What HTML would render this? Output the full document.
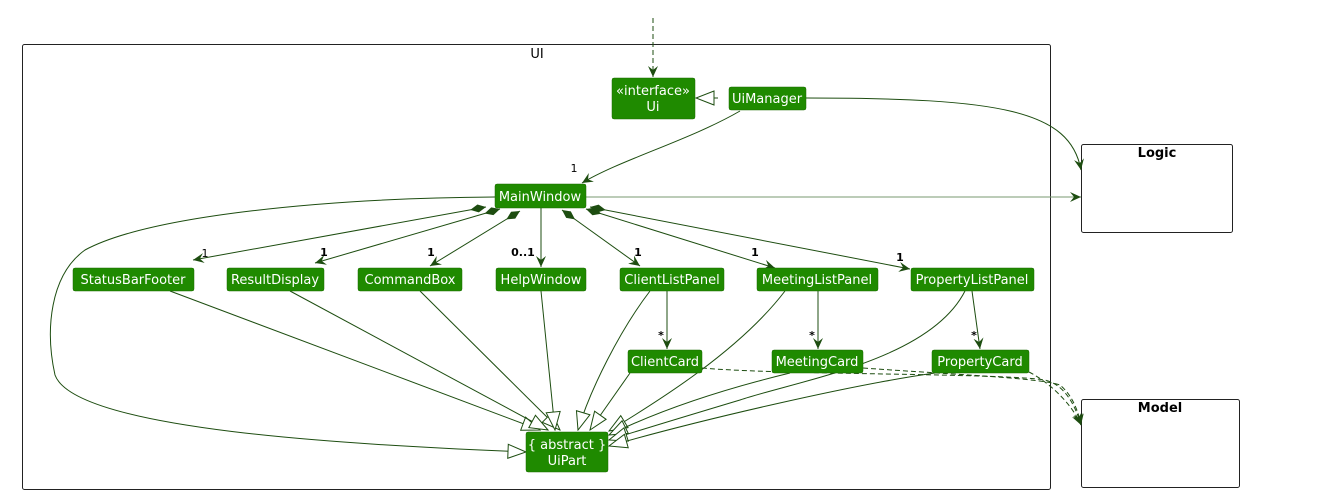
<!DOCTYPE html>
<html><head><meta charset="utf-8"><style>
html,body{margin:0;padding:0;background:#fff;}
svg{display:block;}
text{font-family:"DejaVu Sans","Liberation Sans",sans-serif;}
.n{fill:#1f8a00;stroke:#1a6a00;stroke-width:0.5;}
.t{fill:#fff;font-size:13px;text-anchor:middle;}
.l{fill:none;stroke:#1d4d10;stroke-width:1;}
.d{fill:none;stroke:#1d4d10;stroke-width:1;stroke-dasharray:5,3;}
.m{font-size:11px;fill:#000;text-anchor:middle;}
</style></head><body>
<svg width="1317" height="501" viewBox="0 0 1317 501">
<defs>
<marker id="v" viewBox="0 0 12 10" refX="11" refY="5" markerWidth="12" markerHeight="10" markerUnits="userSpaceOnUse" orient="auto"><path d="M0,0 L11,5 L0,10 L4,5 Z" fill="#1d4d10"/></marker>
<marker id="tri" viewBox="0 0 20 16" refX="19" refY="8" markerWidth="20" markerHeight="16" markerUnits="userSpaceOnUse" orient="auto"><path d="M1,1 L19,8 L1,15 Z" fill="#fff" stroke="#1d4d10"/></marker>
<marker id="dia" viewBox="0 0 18 10" refX="1" refY="5" markerWidth="18" markerHeight="10" markerUnits="userSpaceOnUse" orient="auto"><path d="M1,5 L9,1 L17,5 L9,9 Z" fill="#1d4d10"/></marker>
</defs>
<rect x="22.5" y="44.5" width="1028" height="445" rx="2" fill="none" stroke="#222"/>
<text x="537" y="58" font-size="13" text-anchor="middle">UI</text>
<rect x="1081.5" y="144.5" width="151" height="88" rx="2" fill="none" stroke="#222"/>
<text x="1157" y="157" font-size="13" font-weight="bold" text-anchor="middle">Logic</text>
<rect x="1081.5" y="399.5" width="158" height="88" rx="2" fill="none" stroke="#222"/>
<text x="1160" y="412" font-size="13" font-weight="bold" text-anchor="middle">Model</text>

<path class="d" d="M653,18 L653,77" marker-end="url(#v)"/>
<path class="d" d="M718,98 L696,98" marker-end="url(#tri)"/>
<path class="l" d="M740,111 C690,140 620,160 582,183" marker-end="url(#v)"/>
<text class="m" x="574" y="172">1</text>
<path class="l" d="M806,98 C1000,98 1070,110 1081,170" marker-end="url(#v)"/>
<path d="M586,197 L1081,197" stroke="#7a9a70" fill="none" marker-end="url(#v)"/>

<path class="l" d="M486,207 L193,260" marker-start="url(#dia)" marker-end="url(#v)"/>
<text class="m" x="205" y="257">1</text>
<path class="l" d="M500,209 L315,263" marker-start="url(#dia)" marker-end="url(#v)"/>
<text class="m" x="324" y="256" font-weight="bold">1</text>
<path class="l" d="M520,211 L430,266" marker-start="url(#dia)" marker-end="url(#v)"/>
<text class="m" x="431" y="256" font-weight="bold">1</text>
<path class="l" d="M541,208 L541,267" marker-end="url(#v)"/>
<text class="m" x="523" y="256" font-weight="bold">0..1</text>
<path class="l" d="M562,210 L640,266" marker-start="url(#dia)" marker-end="url(#v)"/>
<text class="m" x="638" y="256" font-weight="bold">1</text>
<path class="l" d="M586,209 L775,268" marker-start="url(#dia)" marker-end="url(#v)"/>
<text class="m" x="755" y="256" font-weight="bold">1</text>
<path class="l" d="M590,207 L910,269" marker-start="url(#dia)" marker-end="url(#v)"/>
<text class="m" x="900" y="261" font-weight="bold">1</text>

<path class="l" d="M667,291 L667,349" marker-end="url(#v)"/>
<text class="m" x="661" y="339" font-size="13" font-weight="bold">*</text>
<path class="l" d="M818,291 L818,349" marker-end="url(#v)"/>
<text class="m" x="812" y="339" font-size="13" font-weight="bold">*</text>
<path class="l" d="M972,291 L980,349" marker-end="url(#v)"/>
<text class="m" x="974" y="339" font-size="13" font-weight="bold">*</text>

<path class="l" d="M495,197 C330,198 150,215 85,250 C50,275 45,330 55,375 C75,430 350,445 526,452" marker-end="url(#tri)"/>
<path class="l" d="M170,291 L540,430" marker-end="url(#tri)"/>
<path class="l" d="M290,291 L548,430" marker-end="url(#tri)"/>
<path class="l" d="M420,291 L560,430" marker-end="url(#tri)"/>
<path class="l" d="M541,291 L555,430" marker-end="url(#tri)"/>
<path class="l" d="M650,291 C620,330 590,390 578,430" marker-end="url(#tri)"/>
<path class="l" d="M630,373 L590,430" marker-end="url(#tri)"/>
<path class="l" d="M785,291 C740,350 660,400 609,431" marker-end="url(#tri)"/>
<path class="l" d="M790,373 C720,390 660,410 609,435" marker-end="url(#tri)"/>
<path class="l" d="M965,291 C930,360 800,380 740,400 C690,415 640,430 609,440" marker-end="url(#tri)"/>
<path class="l" d="M935,373 C850,385 700,420 609,446" marker-end="url(#tri)"/>

<path class="d" d="M702,368 C780,375 1000,373 1045,380 C1065,385 1075,405 1081,425" marker-end="url(#v)"/>
<path class="d" d="M863,368 C960,375 1040,378 1060,385 C1072,395 1078,410 1081,425" marker-end="url(#v)"/>
<path class="d" d="M1029,372 C1045,380 1070,400 1081,425" marker-end="url(#v)"/>

<rect class="n" x="612" y="78" width="83" height="41" rx="2"/>
<text class="t" x="653" y="95">«interface»</text><text class="t" x="653" y="111">Ui</text>
<rect class="n" x="729" y="87" width="77" height="23" rx="2"/><text class="t" x="767" y="103">UiManager</text>
<rect class="n" x="495" y="184" width="91" height="24" rx="2"/><text class="t" x="540" y="201">MainWindow</text>
<rect class="n" x="73" y="268" width="121" height="23" rx="2"/><text class="t" x="133" y="284">StatusBarFooter</text>
<rect class="n" x="227" y="268" width="97" height="23" rx="2"/><text class="t" x="275" y="284">ResultDisplay</text>
<rect class="n" x="358" y="268" width="104" height="23" rx="2"/><text class="t" x="410" y="284">CommandBox</text>
<rect class="n" x="496" y="268" width="90" height="23" rx="2"/><text class="t" x="541" y="284">HelpWindow</text>
<rect class="n" x="620" y="268" width="104" height="23" rx="2"/><text class="t" x="672" y="284">ClientListPanel</text>
<rect class="n" x="757" y="268" width="121" height="23" rx="2"/><text class="t" x="817" y="284">MeetingListPanel</text>
<rect class="n" x="911" y="268" width="123" height="23" rx="2"/><text class="t" x="972" y="284">PropertyListPanel</text>
<rect class="n" x="628" y="350" width="74" height="23" rx="2"/><text class="t" x="665" y="366">ClientCard</text>
<rect class="n" x="772" y="350" width="91" height="23" rx="2"/><text class="t" x="817" y="366">MeetingCard</text>
<rect class="n" x="932" y="350" width="97" height="23" rx="2"/><text class="t" x="980" y="366">PropertyCard</text>
<rect class="n" x="526" y="432" width="82" height="40" rx="2"/>
<text class="t" x="567" y="449">{ abstract }</text><text class="t" x="567" y="465">UiPart</text>
</svg>
</body></html>
